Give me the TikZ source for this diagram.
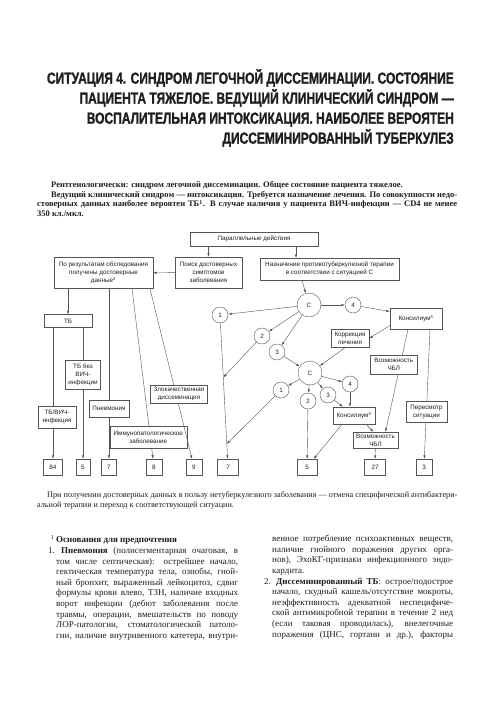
\documentclass[tikz,border=0pt]{standalone}
\usepackage{fontspec}
\setmainfont{Liberation Serif}
\newfontfamily\diagfont{Liberation Sans}
\newfontfamily\titlefont[FakeStretch=0.75,FakeBold=1.2]{Liberation Sans}
\usetikzlibrary{arrows.meta}

\definecolor{ink}{HTML}{1E1E1E}
\definecolor{wire}{HTML}{555555}
\newcommand\dsz{\diagfont\fontsize{6.3}{8}\selectfont}

\tikzset{
  box/.style={draw=wire,fill=white,line width=0.4pt,inner sep=1pt,align=center,font=\dsz,text=ink},
  num/.style={circle,draw=wire,fill=white,line width=0.4pt,minimum size=16pt,inner sep=0pt,font=\dsz,text=ink},
  sit/.style={num,minimum size=24pt},
  res/.style={box,minimum width=16pt,minimum height=16pt},
  link/.style={draw=wire,line width=0.4pt,->},
  wire/.style={draw=wire,line width=0.4pt}
}

\begin{document}
\begin{tikzpicture}[x=1pt,y=-1pt,>={Latex[length=3.5pt,width=2.4pt]}]
  \useasboundingbox[fill=white] (0,0) rectangle (500,707);

  % title and intro
  \node[anchor=north east,inner sep=0,align=right,text=ink,
        font=\titlefont\bfseries\fontsize{16}{20}\selectfont] (title) at (454,69)
    {СИТУАЦИЯ 4. СИНДРОМ ЛЕГОЧНОЙ ДИССЕМИНАЦИИ. СОСТОЯНИЕ\\
     ПАЦИЕНТА ТЯЖЕЛОЕ. ВЕДУЩИЙ КЛИНИЧЕСКИЙ СИНДРОМ —\\
     ВОСПАЛИТЕЛЬНАЯ ИНТОКСИКАЦИЯ. НАИБОЛЕЕ ВЕРОЯТЕН\\
     ДИССЕМИНИРОВАННЫЙ ТУБЕРКУЛЕЗ};
  \node[anchor=north west,inner sep=0,text width=420pt,align=justify,text=ink,
        font=\bfseries\fontsize{8.5}{9.8}\selectfont] (intro) at (37,181)
    {\hspace*{14pt}Рентгенологически: синдром легочной диссеминации. Общее состояние пациента тяжелое.\par
     \hspace*{14pt}Ведущий клинический синдром — интоксикация. Требуется назначение лечения. По совокупности недо-\linebreak
     стоверных данных наиболее вероятен ТБ\textsuperscript{1}. В случае наличия у пациента ВИЧ-инфекции — CD4 не менее\linebreak
     350 кл./мкл.};

  % top row
  \node[box,minimum width=128pt,minimum height=14pt] (par) at (254,239) {Параллельные действия};
  \node[box,minimum width=99pt,minimum height=31pt] (itog) at (103.5,273)
    {По результатам обследования\\получены достоверные\\данные\textsuperscript{2}};
  \node[box,minimum width=67pt,minimum height=31pt] (poisk) at (208.5,272.5)
    {Поиск достоверных\\симптомов\\заболевания};
  \node[box,minimum width=139pt,minimum height=22pt] (nazn) at (329.5,269)
    {Назначение противотуберкулезной терапии\\в соответствии с ситуацией С};
  \node[box,minimum width=48pt,minimum height=13pt] (tb) at (68,321) {ТБ};

  % situation circles
  \node[sit] (c1) at (309,305) {С};
  \node[num] (n4a) at (353,305) {4};
  \node[num] (n1a) at (220,315) {1};
  \node[num] (n2a) at (262,336) {2};
  \node[num] (n3a) at (277,352) {3};
  \node[sit] (c2) at (310,373) {С};
  \node[num] (n4b) at (350,384) {4};
  \node[num] (n1b) at (281,390) {1};
  \node[num] (n3b) at (328,395) {3};
  \node[num] (n2b) at (308,401) {2};

  % right column boxes
  \node[box,minimum width=52pt,minimum height=21pt] (kons1) at (416,318.5) {Консилиум\textsuperscript{3}};
  \node[box,minimum width=38pt,minimum height=18pt] (korr) at (350,338.5) {Коррекция\\лечения};
  \node[box,minimum width=42pt,minimum height=17pt] (kons2) at (354,415.5) {Консилиум\textsuperscript{3}};
  \node[box,minimum width=45pt,minimum height=16pt] (chel2) at (375.5,440) {Возможность\\ЧБЛ};

  % outcomes
  \node[res,minimum width=19pt] (r84) at (53,467) {84};
  \node[res,minimum width=14pt] (r5a) at (83,467) {5};
  \node[res,minimum width=15pt] (r7a) at (109,467) {7};
  \node[res] (r8) at (154,467) {8};
  \node[res] (r9) at (194,467) {9};
  \node[res,minimum width=21pt] (r7b) at (228,467) {7};
  \node[res,minimum width=20pt] (r5b) at (307,467) {5};
  \node[res,minimum width=21pt] (r27) at (375,467) {27};
  \node[res] (r3) at (424,467) {3};

  % connectors, left half
  \draw[link] (poisk|-par.south) -- (poisk);
  \draw[link] ([xshift=42pt]par.south) -- ([xshift=42pt]par.south |- nazn.north);
  \draw[link] (poisk) -- (itog);
  \draw[link] (itog.south -| tb) -- (tb);
  \draw[link] (tb.south -| r84) -- node[box,pos=0.68,minimum width=38pt,minimum height=22pt,xshift=4pt]
    {ТБ/ВИЧ-\\инфекция} (r84);
  \draw[link] (tb.south -| r5a) -- node[box,pos=0.357,minimum width=35pt,minimum height=29pt]
    {ТБ без\\ВИЧ-\\инфекции} (r5a);
  \draw[link] (itog.south -| r7a) -- node[box,pos=0.704,minimum width=40pt,minimum height=17pt]
    {Пневмония} (r7a);
  \draw[link] ([xshift=28.5pt]itog.south) -- node[box,pos=0.871,minimum width=77pt,minimum height=22pt,xshift=-2pt]
    {Иммунопатологическое\\заболевание} (r8);
  \draw[link] ([xshift=46.5pt]itog.south) -- node[box,pos=0.619,minimum width=57pt,minimum height=18pt,xshift=3pt]
    {Злокачественная\\диссеминация} (r9);

  % connectors, right half
  \draw[link] ([xshift=-27.5pt]nazn.south) -- (c1);
  \draw[link] (c1) -- (n1a);
  \draw[link] (c1) -- (n2a);
  \draw[link] (c1) -- (n3a);
  \draw[link] (c1) -- (n4a);
  \draw[link] (n4a) -- (kons1.165);
  \draw[link] (kons1.195) -- (korr.east);
  \draw[link] ([xshift=-8pt]kons1.south) -- node[box,pos=0.345,minimum width=47pt,minimum height=19pt,xshift=-6.5pt]
    {Возможность\\ЧБЛ} ([xshift=10pt]chel2.north);
  \draw[link] ([xshift=14pt]kons1.south) -- node[box,pos=0.635,minimum width=41pt,minimum height=21pt]
    {Пересмотр\\ситуации} (r3);
  \draw[link] (n1a) -- coordinate[pos=0.40] (m7a) coordinate[pos=0.89] (m7b) (r7b);
  \draw[link] (n2a) -- (m7a);
  \draw[link] (n3a) -- (c2);
  \draw[link] ([xshift=-5pt]korr.south) -- (c2);
  \draw[link] (c2) -- (n1b);
  \draw[link] (c2) -- (n2b);
  \draw[link] (c2) -- (n3b);
  \draw[link] (c2) -- (n4b);
  \draw[link] (n1b) -- (m7b);
  \draw[link] (n2b) -- (r5b);
  \draw[link] (n3b) -- ([xshift=10pt]kons2.north west);
  \draw[link] (n4b) -- (n4b |- kons2.north);
  \draw[link] ([xshift=-12pt]kons2.south) -- (r5b);
  \draw[link] ([xshift=12pt]kons2.south) -- ([xshift=-2pt]chel2.north);
  \draw[link] (chel2) -- (r27);

  % caption and footnote text
  \node[anchor=north west,inner sep=0,align=left,text=ink,
        font=\fontsize{8.2}{10}\selectfont] (note) at (37,491)
    {\hspace*{10pt}При получении достоверных данных в пользу нетуберкулезного заболевания — отмена специфической антибактери-\\
     альной терапии и переход к соответствующей ситуации.};
  \node[anchor=north west,inner sep=0,text width=182pt,align=justify,text=ink,
        font=\fontsize{9}{10.6}\selectfont] (colL) at (56,535)
    {\hspace*{-5pt}\textsuperscript{1}\,\textbf{Основания для предпочтения}\par
     \hspace*{-8pt}\makebox[13pt][l]{1.}\textbf{Пневмония} (полисегментарная очаговая, в\linebreak
     том числе септическая): острейшее начало,\linebreak
     гектическая температура тела, ознобы, гной-\linebreak
     ный бронхит, выраженный лейкоцитоз, сдвиг\linebreak
     формулы крови влево, ТЗН, наличие входных\linebreak
     ворот инфекции (дебют заболевания после\linebreak
     травмы, операции, вмешательств по поводу\linebreak
     ЛОР-патологии, стоматологической патоло-\linebreak
     гии, наличие внутривенного катетера, внутри-\linebreak};
  \node[anchor=north west,inner sep=0,text width=181pt,align=justify,text=ink,
        font=\fontsize{9}{10.6}\selectfont] (colR) at (272,535)
    {венное потребление психоактивных веществ,\linebreak
     наличие гнойного поражения других орга-\linebreak
     нов), ЭхоКГ-признаки инфекционного эндо-\linebreak
     кардита.\par
     \hspace*{-8pt}\makebox[12pt][l]{2.}\textbf{Диссеминированный ТБ}: острое/подострое\linebreak
     начало, скудный кашель/отсутствие мокроты,\linebreak
     неэффективность адекватной неспецифиче-\linebreak
     ской антимикробной терапии в течение 2 нед\linebreak
     (если таковая проводилась), внелегочные\linebreak
     поражения (ЦНС, гортани и др.), факторы\linebreak};
\end{tikzpicture}
\end{document}
